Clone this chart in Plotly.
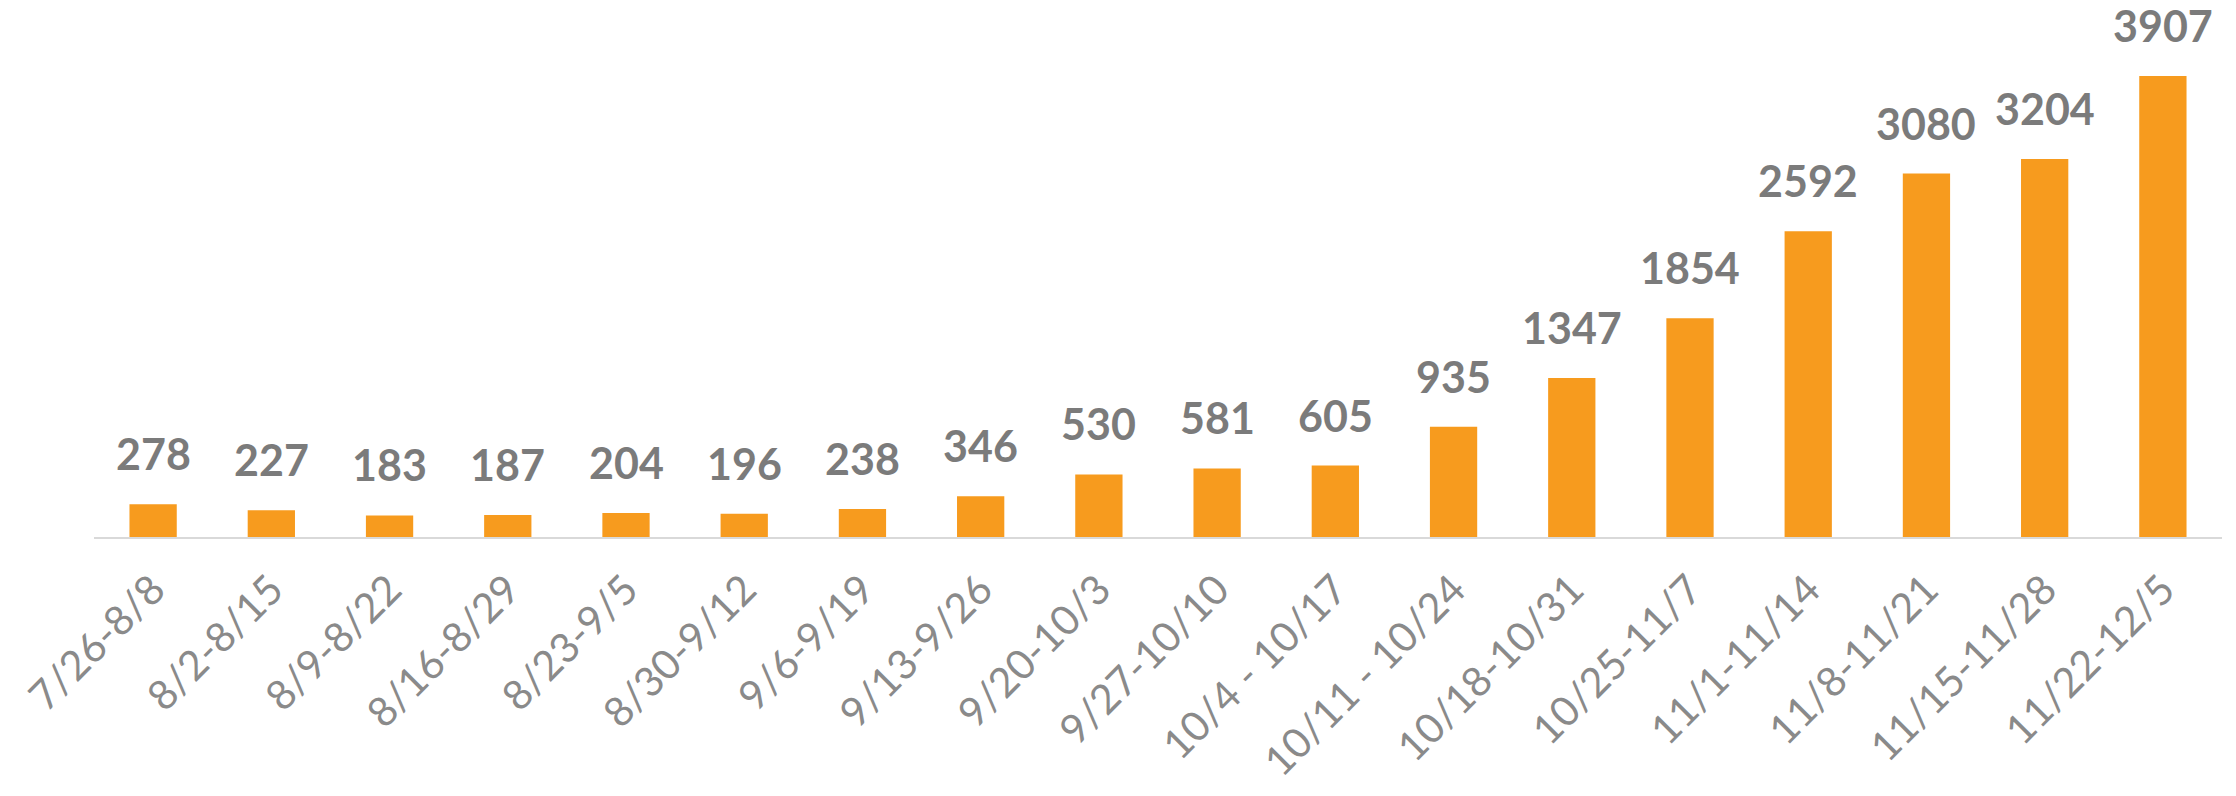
import plotly.graph_objects as go

# weekly periods and counts
periods = [
    "7/26-8/8", "8/2-8/15", "8/9-8/22", "8/16-8/29", "8/23-9/5", "8/30-9/12",
    "9/6-9/19", "9/13-9/26", "9/20-10/3", "9/27-10/10", "10/4 - 10/17",
    "10/11 - 10/24", "10/18-10/31", "10/25-11/7", "11/1-11/14", "11/8-11/21",
    "11/15-11/28", "11/22-12/5",
]
counts = [278, 227, 183, 187, 204, 196, 238, 346, 530, 581, 605, 935,
          1347, 1854, 2592, 3080, 3204, 3907]

bar_color = "#F79B1E"
label_grey = "#7b7b7b"
tick_grey = "#8a8a8a"

fig = go.Figure(
    go.Bar(
        x=periods,
        y=counts,
        marker=dict(color=bar_color, line=dict(width=0)),
        hoverinfo="x+y",
    )
)

# value labels above bars, floated a bit higher like the original
for p, v in zip(periods, counts):
    fig.add_annotation(
        x=p, y=v, text=f"<b>{v}</b>",
        showarrow=False, yanchor="bottom", yshift=24,
        borderpad=0,
        font=dict(size=43, color=label_grey, family="Lato, Open Sans, sans-serif"),
    )

# page body has an 8px margin, so the figure is a little smaller than the window
fig.update_layout(
    width=2220,
    height=780,
    margin=dict(l=86, r=6, t=2, b=251),
    plot_bgcolor="white",
    paper_bgcolor="white",
    bargap=0.6,
    showlegend=False,
    font_family="Lato, Open Sans, sans-serif",
    xaxis=dict(
        type="category",
        tickangle=-45,
        tickfont=dict(size=41, color=tick_grey),
        ticklabelstandoff=10,
        showline=True,
        linecolor="#d9d9d9",
        linewidth=2,
        showgrid=False,
        ticks="",
        automargin=False,
    ),
    yaxis=dict(
        range=[0, 4466],
        visible=False,
        showgrid=False,
        zeroline=False,
        automargin=False,
    ),
)

fig.write_html("out.html")
